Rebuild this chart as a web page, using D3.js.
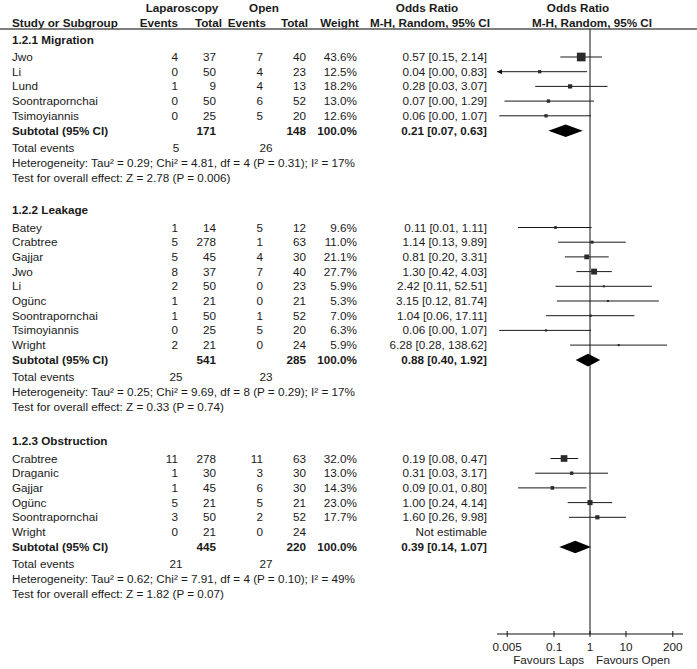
<!DOCTYPE html>
<html>
<head>
<meta charset="utf-8">
<script src="https://cdn.jsdelivr.net/npm/d3@7"></script>
<style>
  html, body { margin: 0; padding: 0; background: #fff; }
  svg { display: block; font-family: "Liberation Sans", Arial, sans-serif; }
</style>
</head>
<body>
<svg id="chart" width="697" height="669"></svg>
<script>
// ---------------- DATA ----------------
const groupTitles = ["1.2.1 Migration", "1.2.2 Leakage", "1.2.3 Obstruction"];

const studyGroup = [0,0,0,0,0, 1,1,1,1,1,1,1,1,1, 2,2,2,2,2,2];
const studyNames = [
  "Jwo","Li","Lund","Soontrapornchai","Tsimoyiannis",
  "Batey","Crabtree","Gajjar","Jwo","Li","Ogünc","Soontrapornchai","Tsimoyiannis","Wright",
  "Crabtree","Draganic","Gajjar","Ogünc","Soontrapornchai","Wright"
];
const lapEvents  = [4,0,1,0,0, 1,5,5,8,2,1,1,0,2, 11,1,1,5,3,0];
const lapTotals  = [37,50,9,50,25, 14,278,45,37,50,21,50,25,21, 278,30,45,21,50,21];
const openEvents = [7,4,4,6,5, 5,1,4,7,0,0,1,5,0, 11,3,6,5,2,0];
const openTotals = [40,23,13,52,20, 12,63,30,40,23,21,52,20,24, 63,30,30,21,52,24];
const weights    = [43.6,12.5,18.2,13.0,12.6, 9.6,11.0,21.1,27.7,5.9,5.3,7.0,6.3,5.9, 32.0,13.0,14.3,23.0,17.7,null];
const oddsRatio  = [0.57,0.04,0.28,0.07,0.06, 0.11,1.14,0.81,1.30,2.42,3.15,1.04,0.06,6.28, 0.19,0.31,0.09,1.00,1.60,null];
const ciLower    = [0.15,0.002,0.03,0.0042,0.003, 0.01,0.13,0.20,0.42,0.11,0.12,0.06,0.003,0.28, 0.08,0.03,0.01,0.24,0.26,null];
const ciUpper    = [2.14,0.83,3.07,1.29,1.07, 1.11,9.89,3.31,4.03,52.51,81.74,17.11,1.07,138.62, 0.47,3.17,0.80,4.14,9.98,null];

const subLapTotals  = [171, 541, 445];
const subOpenTotals = [148, 285, 220];
const subOR    = [0.21, 0.88, 0.39];
const subLower = [0.07, 0.40, 0.14];
const subUpper = [0.63, 1.92, 1.07];

const totalLapEvents  = [5, 25, 21];
const totalOpenEvents = [26, 23, 27];
const heterogeneityText = [
  "Heterogeneity: Tau² = 0.29; Chi² = 4.81, df = 4 (P = 0.31); I² = 17%",
  "Heterogeneity: Tau² = 0.25; Chi² = 9.69, df = 8 (P = 0.29); I² = 17%",
  "Heterogeneity: Tau² = 0.62; Chi² = 7.91, df = 4 (P = 0.10); I² = 49%"
];
const overallEffectText = [
  "Test for overall effect: Z = 2.78 (P = 0.006)",
  "Test for overall effect: Z = 0.33 (P = 0.74)",
  "Test for overall effect: Z = 1.82 (P = 0.07)"
];

const axisTicks = [0.005, 0.1, 1, 10, 200];
const axisTickLabels = ["0.005", "0.1", "1", "10", "200"];
const favoursLabels = ["Favours Laps", "Favours Open"];

// ---------------- LAYOUT ----------------
const svg = d3.select("#chart");
const FS = 11.7;
const textColor = "#1a1a1a";

const col = {
  study: 12,
  lapEv: 178, lapTot: 216,
  openEv: 263, openTot: 306,
  weight: 357,
  orText: 487,
  totLapEv: 176, totOpenEv: 266
};

const x = d3.scaleLog().domain([0.005, 200]).range([507.2, 672.8]);
const xMinPix = 497, xMaxPix = 683;
const axisY = 634;
const headerLineY = 29;

const groupTitleY = [39.5, 210, 441];
const titleToFirst = 17.5, step = 14.7, toSubtotal = 15, toTotal = 17, lineStep = 15;

function txt(xp, yp, s, opts = {}) {
  return svg.append("text")
    .attr("x", xp).attr("y", yp)
    .attr("dy", "0.35em")
    .attr("font-size", opts.size || FS)
    .attr("font-weight", opts.bold ? "bold" : "normal")
    .attr("text-anchor", opts.anchor || "start")
    .attr("fill", textColor)
    .text(s);
}

// Header
txt(182, 8, "Laparoscopy", {bold: true, anchor: "middle"});
txt(264, 8, "Open", {bold: true, anchor: "middle"});
txt(427, 8, "Odds Ratio", {bold: true, anchor: "middle"});
txt(578, 8, "Odds Ratio", {bold: true, anchor: "middle"});
txt(col.study, 22.5, "Study or Subgroup", {bold: true});
txt(178, 22.5, "Events", {bold: true, anchor: "end"});
txt(222, 22.5, "Total", {bold: true, anchor: "end"});
txt(266, 22.5, "Events", {bold: true, anchor: "end"});
txt(308, 22.5, "Total", {bold: true, anchor: "end"});
txt(359, 22.5, "Weight", {bold: true, anchor: "end"});
txt(430, 22.5, "M-H, Random, 95% CI", {bold: true, anchor: "middle"});
txt(592, 22.5, "M-H, Random, 95% CI", {bold: true, anchor: "middle"});

svg.append("line")
  .attr("x1", 0).attr("x2", 697)
  .attr("y1", headerLineY).attr("y2", headerLineY)
  .attr("stroke", "#555").attr("stroke-width", 1.6);

// vertical no-effect line
svg.append("line")
  .attr("x1", x(1)).attr("x2", x(1))
  .attr("y1", headerLineY).attr("y2", axisY)
  .attr("stroke", "#111").attr("stroke-width", 1);

const sizeScale = d3.scaleLinear().domain([0, 100]).range([1.1, 18.5]);
const fmt = v => v.toFixed(2);

groupTitles.forEach((title, g) => {
  let y = groupTitleY[g];
  txt(col.study, y, title, {bold: true});
  const idx = d3.range(studyNames.length).filter(i => studyGroup[i] === g);
  y += titleToFirst;
  idx.forEach((i, k) => {
    const yy = y + k * step;
    txt(col.study, yy, studyNames[i]);
    txt(col.lapEv, yy, lapEvents[i], {anchor: "end"});
    txt(col.lapTot, yy, lapTotals[i], {anchor: "end"});
    txt(col.openEv, yy, openEvents[i], {anchor: "end"});
    txt(col.openTot, yy, openTotals[i], {anchor: "end"});
    if (weights[i] == null) {
      txt(col.orText, yy, "Not estimable", {anchor: "end"});
      return;
    }
    txt(col.weight, yy, weights[i].toFixed(1) + "%", {anchor: "end"});
    txt(col.orText, yy, `${fmt(oddsRatio[i])} [${fmt(ciLower[i])}, ${fmt(ciUpper[i])}]`, {anchor: "end"});
    // CI line
    const lo = x(ciLower[i]), hi = x(ciUpper[i]);
    const x1 = Math.max(lo, xMinPix), x2 = Math.min(hi, xMaxPix);
    svg.append("line")
      .attr("x1", x1).attr("x2", x2).attr("y1", yy).attr("y2", yy)
      .attr("stroke", "#1a1a1a").attr("stroke-width", 1);
    if (lo < xMinPix) {
      svg.append("path")
        .attr("d", `M${xMinPix},${yy} l5,-2.5 l0,5 z`)
        .attr("fill", "#111");
    }
    if (hi > xMaxPix) {
      svg.append("path")
        .attr("d", `M${xMaxPix},${yy} l-5,-2.5 l0,5 z`)
        .attr("fill", "#111");
    }
    const s = sizeScale(weights[i]);
    svg.append("rect")
      .attr("x", x(oddsRatio[i]) - s / 2).attr("y", yy - s / 2)
      .attr("width", s).attr("height", s)
      .attr("fill", "#2b2b2b");
  });
  const lastY = y + (idx.length - 1) * step;
  const subY = lastY + toSubtotal;
  txt(col.study, subY, "Subtotal (95% CI)", {bold: true});
  txt(col.lapTot, subY, subLapTotals[g], {bold: true, anchor: "end"});
  txt(col.openTot, subY, subOpenTotals[g], {bold: true, anchor: "end"});
  txt(col.weight, subY, "100.0%", {bold: true, anchor: "end"});
  txt(col.orText, subY, `${fmt(subOR[g])} [${fmt(subLower[g])}, ${fmt(subUpper[g])}]`, {bold: true, anchor: "end"});
  const dh = 6.3;
  svg.append("path")
    .attr("d", `M${x(subLower[g])},${subY} L${x(subOR[g])},${subY - dh} L${x(subUpper[g])},${subY} L${x(subOR[g])},${subY + dh} Z`)
    .attr("fill", "#000");

  const totY = subY + toTotal;
  txt(col.study, totY, "Total events");
  txt(col.totLapEv, totY, totalLapEvents[g], {anchor: "middle"});
  txt(col.totOpenEv, totY, totalOpenEvents[g], {anchor: "middle"});
  txt(col.study, totY + lineStep, heterogeneityText[g]);
  txt(col.study, totY + 2 * lineStep, overallEffectText[g]);
});

// Axis
const axisG = svg.append("g");
axisG.append("line")
  .attr("x1", xMinPix).attr("x2", xMaxPix)
  .attr("y1", axisY).attr("y2", axisY)
  .attr("stroke", "#111").attr("stroke-width", 1);
axisTicks.forEach((t, i) => {
  axisG.append("line")
    .attr("x1", x(t)).attr("x2", x(t))
    .attr("y1", axisY - 3).attr("y2", axisY + 3)
    .attr("stroke", "#111").attr("stroke-width", 1);
  txt(x(t), axisY + 13, axisTickLabels[i], {anchor: "middle"});
});
txt(x(1) - 6, axisY + 26, favoursLabels[0], {anchor: "end"});
txt(x(1) + 6, axisY + 26, favoursLabels[1], {anchor: "start"});
</script>
</body>
</html>
